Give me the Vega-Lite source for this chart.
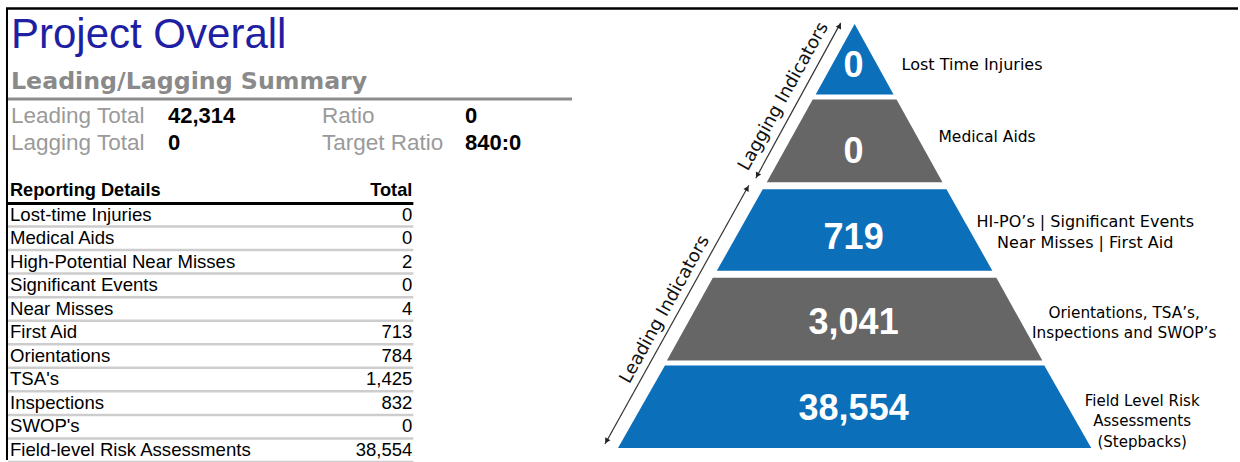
{
  "$schema": "https://vega.github.io/schema/vega-lite/v6.json",
  "width": 1240,
  "height": 462,
  "autosize": {"type": "fit", "contains": "padding"},
  "padding": 0,
  "background": "#ffffff",
  "config": {
    "view": {"stroke": null},
    "axis": {"disable": true},
    "legend": {"disable": true},
    "text": {"font": "Liberation Sans"}
  },
  "resolve": {"scale": {"x": "independent", "y": "independent", "color": "independent"}},
  "datasets": {
    "summary": [
      {"group": "Totals", "line": 1, "metric": "Leading Total", "value": "42,314"},
      {"group": "Totals", "line": 2, "metric": "Lagging Total", "value": "0"},
      {"group": "Ratios", "line": 1, "metric": "Ratio", "value": "0"},
      {"group": "Ratios", "line": 2, "metric": "Target Ratio", "value": "840:0"}
    ],
    "details": [
      {"item": "Lost-time Injuries", "total": 0},
      {"item": "Medical Aids", "total": 0},
      {"item": "High-Potential Near Misses", "total": 2},
      {"item": "Significant Events", "total": 0},
      {"item": "Near Misses", "total": 4},
      {"item": "First Aid", "total": 713},
      {"item": "Orientations", "total": 784},
      {"item": "TSA's", "total": 1425},
      {"item": "Inspections", "total": 832},
      {"item": "SWOP's", "total": 0},
      {"item": "Field-level Risk Assessments", "total": 38554}
    ],
    "levels": [
      {"level": "Lost Time Injuries", "count": 0, "desc": ["Lost Time Injuries"]},
      {"level": "Medical Aids", "count": 0, "desc": ["Medical Aids"]},
      {"level": "HI-PO's, Significant Events, Near Misses, First Aid", "count": 719, "desc": ["HI-PO’s  | Significant Events", "Near Misses | First Aid"]},
      {"level": "Orientations, TSA's, Inspections and SWOP's", "count": 3041, "desc": ["Orientations, TSA’s,", "Inspections and SWOP’s"]},
      {"level": "Field Level Risk Assessments", "count": 38554, "desc": ["Field Level Risk", "Assessments", "(Stepbacks)"]}
    ],
    "pyramid": [
      {"level": "Lost Time Injuries", "y": 24, "left": 856, "right": 856},
      {"level": "Lost Time Injuries", "y": 95, "left": 817, "right": 895},
      {"level": "Medical Aids", "y": 100, "left": 814, "right": 898},
      {"level": "Medical Aids", "y": 183, "left": 768, "right": 944},
      {"level": "HI-PO's, Significant Events, Near Misses, First Aid", "y": 190, "left": 764, "right": 948},
      {"level": "HI-PO's, Significant Events, Near Misses, First Aid", "y": 272, "left": 718, "right": 994},
      {"level": "Orientations, TSA's, Inspections and SWOP's", "y": 279, "left": 714, "right": 998},
      {"level": "Orientations, TSA's, Inspections and SWOP's", "y": 362, "left": 668, "right": 1044},
      {"level": "Field Level Risk Assessments", "y": 367, "left": 666, "right": 1046},
      {"level": "Field Level Risk Assessments", "y": 450, "left": 619, "right": 1093}
    ]
  },
  "layer": [
    {
      "data": {"values": [{"part": "frame top"}]},
      "mark": {"type": "rule", "color": "#000000", "strokeWidth": 2.5},
      "encoding": {
        "x": {"datum": 6, "type": "quantitative", "scale": {"domain": [0, 1240], "nice": false, "zero": false}},
        "x2": {"datum": 1240},
        "y": {"datum": 8.5, "type": "quantitative", "scale": {"domain": [0, 462], "nice": false, "zero": false, "reverse": true}}
      }
    },
    {
      "data": {"values": [{"part": "frame left"}]},
      "mark": {"type": "rule", "color": "#000000", "strokeWidth": 2},
      "encoding": {
        "x": {"datum": 7, "type": "quantitative", "scale": {"domain": [0, 1240], "nice": false, "zero": false}},
        "y": {"datum": 8, "type": "quantitative", "scale": {"domain": [0, 462], "nice": false, "zero": false, "reverse": true}},
        "y2": {"datum": 462}
      }
    },
    {
      "data": {"values": [{"title": "Project Overall"}]},
      "mark": {"type": "text", "align": "left", "baseline": "alphabetic", "fontSize": 42, "color": "#1f1fa3"},
      "encoding": {
        "text": {"field": "title"},
        "x": {"datum": 11, "type": "quantitative", "scale": {"domain": [0, 1240], "nice": false, "zero": false}},
        "y": {"datum": 48.5, "type": "quantitative", "scale": {"domain": [0, 462], "nice": false, "zero": false, "reverse": true}}
      }
    },
    {
      "data": {"values": [{"subtitle": "Leading/Lagging Summary"}]},
      "mark": {"type": "text", "align": "left", "baseline": "middle", "fontSize": 23.7, "fontWeight": "bold", "font": "DejaVu Sans", "color": "#8a8a8a"},
      "encoding": {
        "text": {"field": "subtitle"},
        "x": {"datum": 11, "type": "quantitative", "scale": {"domain": [0, 1240], "nice": false, "zero": false}},
        "y": {"datum": 82, "type": "quantitative", "scale": {"domain": [0, 462], "nice": false, "zero": false, "reverse": true}}
      }
    },
    {
      "data": {"values": [{"part": "summary rule"}]},
      "mark": {"type": "rule", "color": "#8c8c8c", "strokeWidth": 3},
      "encoding": {
        "x": {"datum": 8, "type": "quantitative", "scale": {"domain": [0, 1240], "nice": false, "zero": false}},
        "x2": {"datum": 573},
        "y": {"datum": 99.5, "type": "quantitative", "scale": {"domain": [0, 462], "nice": false, "zero": false, "reverse": true}}
      }
    },
    {
      "data": {"name": "summary"},
      "mark": {"type": "text", "align": "left", "baseline": "middle", "fontSize": 22.5, "color": "#9a9a9a"},
      "encoding": {
        "text": {"field": "metric"},
        "x": {"field": "group", "type": "nominal", "sort": null, "scale": {"type": "point", "range": [11, 322], "padding": 0}},
        "y": {"field": "line", "type": "ordinal", "scale": {"type": "point", "range": [116, 143], "padding": 0}}
      }
    },
    {
      "data": {"name": "summary"},
      "mark": {"type": "text", "align": "left", "baseline": "middle", "fontSize": 22, "fontWeight": "bold", "color": "#000000"},
      "encoding": {
        "text": {"field": "value"},
        "x": {"field": "group", "type": "nominal", "sort": null, "scale": {"type": "point", "range": [168, 465], "padding": 0}},
        "y": {"field": "line", "type": "ordinal", "scale": {"type": "point", "range": [116, 143], "padding": 0}}
      }
    },
    {
      "data": {"values": [{"header": "Reporting Details"}]},
      "mark": {"type": "text", "align": "left", "baseline": "middle", "fontSize": 18.2, "fontWeight": "bold", "color": "#000000"},
      "encoding": {
        "text": {"field": "header"},
        "x": {"datum": 10, "type": "quantitative", "scale": {"domain": [0, 1240], "nice": false, "zero": false}},
        "y": {"datum": 192, "type": "quantitative", "scale": {"domain": [0, 462], "nice": false, "zero": false, "reverse": true}}
      }
    },
    {
      "data": {"values": [{"header": "Total"}]},
      "mark": {"type": "text", "align": "right", "baseline": "middle", "fontSize": 18.2, "fontWeight": "bold", "color": "#000000"},
      "encoding": {
        "text": {"field": "header"},
        "x": {"datum": 413, "type": "quantitative", "scale": {"domain": [0, 1240], "nice": false, "zero": false}},
        "y": {"datum": 192, "type": "quantitative", "scale": {"domain": [0, 462], "nice": false, "zero": false, "reverse": true}}
      }
    },
    {
      "data": {"values": [{"part": "header rule"}]},
      "mark": {"type": "rule", "color": "#000000", "strokeWidth": 3},
      "encoding": {
        "x": {"datum": 8, "type": "quantitative", "scale": {"domain": [0, 1240], "nice": false, "zero": false}},
        "x2": {"datum": 414},
        "y": {"datum": 204.5, "type": "quantitative", "scale": {"domain": [0, 462], "nice": false, "zero": false, "reverse": true}}
      }
    },
    {
      "data": {"name": "details"},
      "mark": {"type": "rule", "color": "#cdcdcd", "strokeWidth": 2.5, "yOffset": 12},
      "encoding": {
        "x": {"datum": 8, "type": "quantitative", "scale": {"domain": [0, 1240], "nice": false, "zero": false}},
        "x2": {"datum": 414},
        "y": {"field": "item", "type": "nominal", "sort": null, "scale": {"type": "point", "range": [214.5, 450], "padding": 0}}
      }
    },
    {
      "data": {"name": "details"},
      "mark": {"type": "text", "align": "left", "baseline": "middle", "fontSize": 18.6, "color": "#000000"},
      "encoding": {
        "text": {"field": "item"},
        "x": {"datum": 10, "type": "quantitative", "scale": {"domain": [0, 1240], "nice": false, "zero": false}},
        "y": {"field": "item", "type": "nominal", "sort": null, "scale": {"type": "point", "range": [214.5, 450], "padding": 0}}
      }
    },
    {
      "data": {"name": "details"},
      "mark": {"type": "text", "align": "right", "baseline": "middle", "fontSize": 18.5, "color": "#000000"},
      "encoding": {
        "text": {"field": "total", "type": "quantitative", "format": ","},
        "x": {"datum": 413, "type": "quantitative", "scale": {"domain": [0, 1240], "nice": false, "zero": false}},
        "y": {"field": "item", "type": "nominal", "sort": null, "scale": {"type": "point", "range": [214.5, 450], "padding": 0}}
      }
    },
    {
      "data": {"name": "pyramid"},
      "mark": {"type": "area", "orient": "horizontal", "opacity": 1},
      "encoding": {
        "y": {"field": "y", "type": "quantitative", "scale": {"domain": [0, 462], "nice": false, "zero": false, "reverse": true}},
        "x": {"field": "left", "type": "quantitative", "scale": {"domain": [0, 1240], "nice": false, "zero": false}},
        "x2": {"field": "right"},
        "color": {
          "field": "level", "type": "nominal",
          "scale": {
            "domain": ["Lost Time Injuries", "Medical Aids", "HI-PO's, Significant Events, Near Misses, First Aid", "Orientations, TSA's, Inspections and SWOP's", "Field Level Risk Assessments"],
            "range": ["#0b6fba", "#666666", "#0b6fba", "#666666", "#0b6fba"]
          }
        }
      }
    },
    {
      "data": {"name": "levels"},
      "mark": {"type": "text", "align": "center", "baseline": "middle", "fontSize": 36, "fontWeight": "bold", "color": "#ffffff"},
      "encoding": {
        "text": {"field": "count", "type": "quantitative", "format": ","},
        "x": {"datum": 855, "type": "quantitative", "scale": {"domain": [0, 1240], "nice": false, "zero": false}},
        "y": {"field": "level", "type": "nominal", "sort": null, "scale": {"type": "point", "range": [66, 409], "padding": 0}}
      }
    },
    {
      "data": {"values": [{"arrow": "Lagging Indicators"}]},
      "mark": {"type": "rule", "color": "#333333", "strokeWidth": 1.2},
      "encoding": {
        "x": {"datum": 842, "type": "quantitative", "scale": {"domain": [0, 1240], "nice": false, "zero": false}},
        "x2": {"datum": 757},
        "y": {"datum": 23, "type": "quantitative", "scale": {"domain": [0, 462], "nice": false, "zero": false, "reverse": true}},
        "y2": {"datum": 179}
      }
    },
    {
      "data": {"values": [{"arrow": "Leading Indicators"}]},
      "mark": {"type": "rule", "color": "#333333", "strokeWidth": 1.2},
      "encoding": {
        "x": {"datum": 750, "type": "quantitative", "scale": {"domain": [0, 1240], "nice": false, "zero": false}},
        "x2": {"datum": 606},
        "y": {"datum": 186, "type": "quantitative", "scale": {"domain": [0, 462], "nice": false, "zero": false, "reverse": true}},
        "y2": {"datum": 446}
      }
    },
    {
      "data": {"values": [{"head": "Lagging up"}]},
      "mark": {"type": "point", "shape": "triangle-up", "filled": true, "color": "#222222", "size": 36, "angle": 29, "opacity": 1},
      "encoding": {
        "x": {"datum": 841, "type": "quantitative", "scale": {"domain": [0, 1240], "nice": false, "zero": false}},
        "y": {"datum": 26, "type": "quantitative", "scale": {"domain": [0, 462], "nice": false, "zero": false, "reverse": true}}
      }
    },
    {
      "data": {"values": [{"head": "Lagging down"}]},
      "mark": {"type": "point", "shape": "triangle-up", "filled": true, "color": "#222222", "size": 36, "angle": 209, "opacity": 1},
      "encoding": {
        "x": {"datum": 758.5, "type": "quantitative", "scale": {"domain": [0, 1240], "nice": false, "zero": false}},
        "y": {"datum": 176, "type": "quantitative", "scale": {"domain": [0, 462], "nice": false, "zero": false, "reverse": true}}
      }
    },
    {
      "data": {"values": [{"head": "Leading up"}]},
      "mark": {"type": "point", "shape": "triangle-up", "filled": true, "color": "#222222", "size": 36, "angle": 29, "opacity": 1},
      "encoding": {
        "x": {"datum": 748.5, "type": "quantitative", "scale": {"domain": [0, 1240], "nice": false, "zero": false}},
        "y": {"datum": 189, "type": "quantitative", "scale": {"domain": [0, 462], "nice": false, "zero": false, "reverse": true}}
      }
    },
    {
      "data": {"values": [{"head": "Leading down"}]},
      "mark": {"type": "point", "shape": "triangle-up", "filled": true, "color": "#222222", "size": 36, "angle": 209, "opacity": 1},
      "encoding": {
        "x": {"datum": 607.5, "type": "quantitative", "scale": {"domain": [0, 1240], "nice": false, "zero": false}},
        "y": {"datum": 443, "type": "quantitative", "scale": {"domain": [0, 462], "nice": false, "zero": false, "reverse": true}}
      }
    },
    {
      "data": {"values": [{"label": "Lagging Indicators"}]},
      "mark": {"type": "text", "align": "center", "baseline": "middle", "fontSize": 18, "font": "DejaVu Sans", "angle": -61, "color": "#111111"},
      "encoding": {
        "text": {"field": "label"},
        "x": {"datum": 785, "type": "quantitative", "scale": {"domain": [0, 1240], "nice": false, "zero": false}},
        "y": {"datum": 97, "type": "quantitative", "scale": {"domain": [0, 462], "nice": false, "zero": false, "reverse": true}}
      }
    },
    {
      "data": {"values": [{"label": "Leading Indicators"}]},
      "mark": {"type": "text", "align": "center", "baseline": "middle", "fontSize": 18, "font": "DejaVu Sans", "angle": -61, "color": "#111111"},
      "encoding": {
        "text": {"field": "label"},
        "x": {"datum": 666, "type": "quantitative", "scale": {"domain": [0, 1240], "nice": false, "zero": false}},
        "y": {"datum": 311, "type": "quantitative", "scale": {"domain": [0, 462], "nice": false, "zero": false, "reverse": true}}
      }
    },
    {
      "data": {"name": "levels"},
      "transform": [{"filter": {"field": "level", "equal": "Lost Time Injuries"}}],
      "mark": {"type": "text", "align": "left", "baseline": "middle", "fontSize": 16, "font": "DejaVu Sans", "color": "#000000"},
      "encoding": {
        "text": {"field": "desc"},
        "x": {"datum": 903, "type": "quantitative", "scale": {"domain": [0, 1240], "nice": false, "zero": false}},
        "y": {"datum": 65, "type": "quantitative", "scale": {"domain": [0, 462], "nice": false, "zero": false, "reverse": true}}
      }
    },
    {
      "data": {"name": "levels"},
      "transform": [{"filter": {"field": "level", "equal": "Medical Aids"}}],
      "mark": {"type": "text", "align": "left", "baseline": "middle", "fontSize": 15.5, "font": "DejaVu Sans", "color": "#000000"},
      "encoding": {
        "text": {"field": "desc"},
        "x": {"datum": 940, "type": "quantitative", "scale": {"domain": [0, 1240], "nice": false, "zero": false}},
        "y": {"datum": 138, "type": "quantitative", "scale": {"domain": [0, 462], "nice": false, "zero": false, "reverse": true}}
      }
    },
    {
      "data": {"name": "levels"},
      "transform": [{"filter": {"field": "count", "equal": 719}}],
      "mark": {"type": "text", "align": "center", "baseline": "middle", "fontSize": 16, "lineHeight": 21, "font": "DejaVu Sans", "color": "#000000"},
      "encoding": {
        "text": {"field": "desc"},
        "x": {"datum": 1087, "type": "quantitative", "scale": {"domain": [0, 1240], "nice": false, "zero": false}},
        "y": {"datum": 222.5, "type": "quantitative", "scale": {"domain": [0, 462], "nice": false, "zero": false, "reverse": true}}
      }
    },
    {
      "data": {"name": "levels"},
      "transform": [{"filter": {"field": "count", "equal": 3041}}],
      "mark": {"type": "text", "align": "center", "baseline": "middle", "fontSize": 15.3, "lineHeight": 20, "font": "DejaVu Sans", "color": "#000000"},
      "encoding": {
        "text": {"field": "desc"},
        "x": {"datum": 1126, "type": "quantitative", "scale": {"domain": [0, 1240], "nice": false, "zero": false}},
        "y": {"datum": 314, "type": "quantitative", "scale": {"domain": [0, 462], "nice": false, "zero": false, "reverse": true}}
      }
    },
    {
      "data": {"name": "levels"},
      "transform": [{"filter": {"field": "count", "equal": 38554}}],
      "mark": {"type": "text", "align": "center", "baseline": "middle", "fontSize": 15, "lineHeight": 20.5, "font": "DejaVu Sans", "color": "#000000"},
      "encoding": {
        "text": {"field": "desc"},
        "x": {"datum": 1144, "type": "quantitative", "scale": {"domain": [0, 1240], "nice": false, "zero": false}},
        "y": {"datum": 402.5, "type": "quantitative", "scale": {"domain": [0, 462], "nice": false, "zero": false, "reverse": true}}
      }
    }
  ]
}
